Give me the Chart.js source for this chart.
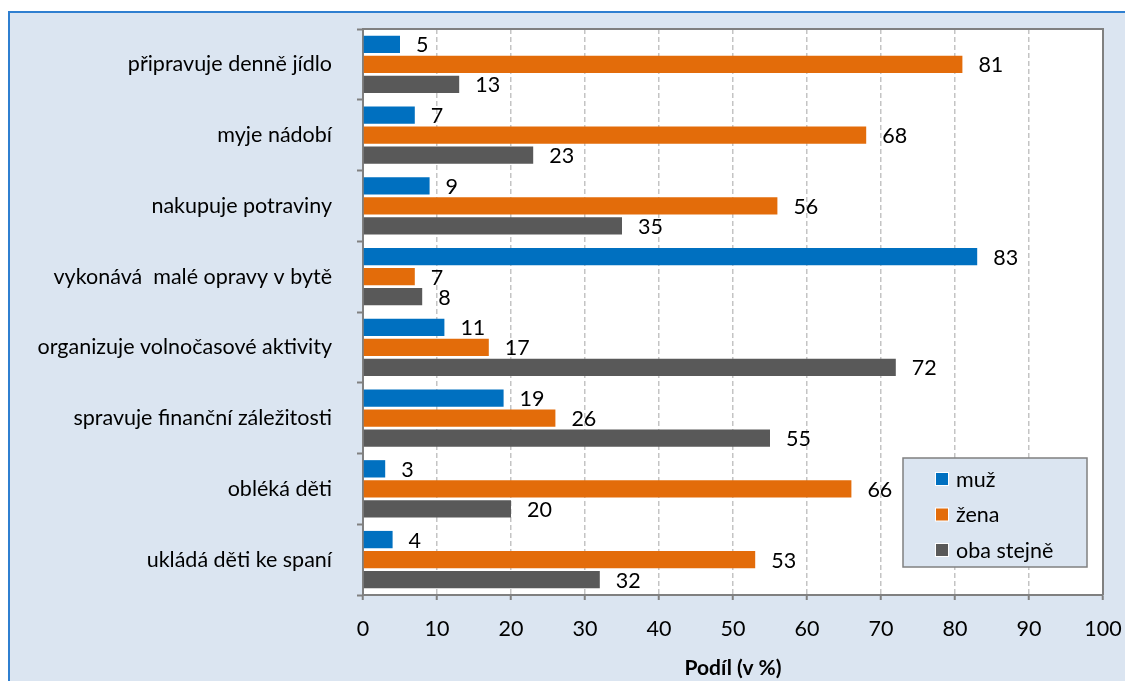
<!DOCTYPE html>
<html>
<head>
<meta charset="utf-8">
<script src="https://cdn.jsdelivr.net/npm/chart.js@4"></script>
<style>
  html, body { margin: 0; padding: 0; background: #fff; }
  #wrap { width: 1125px; height: 681px; }
</style>
</head>
<body>
<div id="wrap"><canvas id="GraphJS" width="1125" height="681"></canvas></div>
<script>
// data
const categories = ['připravuje denně jídlo', 'myje nádobí', 'nakupuje potraviny', 'vykonává  malé opravy v bytě',
    'organizuje volnočasové aktivity', 'spravuje finanční záležitosti', 'obléká děti', 'ukládá děti ke spaní'];
const muz = [5, 7, 9, 83, 11, 19, 3, 4];
const zena = [81, 68, 56, 7, 17, 26, 66, 53];
const oba = [13, 23, 35, 8, 72, 55, 20, 32];
const seriesNames = ['muž', 'žena', 'oba stejně'];
const seriesColors = ['#0070c0', '#e36c0a', '#595959'];
const xTicks = [0, 10, 20, 30, 40, 50, 60, 70, 80, 90, 100];

const FONT = 'Lato, "Open Sans", sans-serif';
const FS = 21.5;

// background panel, frame of plot, value labels, legend, axis title
const extras = {
    id: 'extras',
    beforeDraw(chart) {
        const c = chart.ctx;
        c.save();
        c.fillStyle = '#fff';
        c.fillRect(0, 0, chart.width, chart.height);
        c.fillStyle = '#dbe5f1';
        c.fillRect(9, 12, chart.width - 9, chart.height - 12);
        c.strokeStyle = '#2f7fd0';
        c.lineWidth = 2;
        c.beginPath();
        c.moveTo(9, chart.height);
        c.lineTo(9, 12);
        c.lineTo(chart.width, 12);
        c.stroke();
        const a = chart.chartArea;
        c.fillStyle = '#fff';
        c.fillRect(a.left, a.top, a.right - a.left, a.bottom - a.top);
        c.restore();
    },
    afterDraw(chart) {
        const c = chart.ctx;
        const a = chart.chartArea;
        c.save();
        // top/right frame
        c.strokeStyle = '#808080';
        c.lineWidth = 2;
        c.beginPath();
        c.moveTo(a.left, a.top);
        c.lineTo(a.right, a.top);
        c.lineTo(a.right, a.bottom);
        c.stroke();

        // value labels
        c.font = FS + 'px ' + FONT;
        c.fillStyle = '#000';
        c.textAlign = 'left';
        c.textBaseline = 'middle';
        chart.data.datasets.forEach((ds, i) => {
            chart.getDatasetMeta(i).data.forEach((bar, j) => {
                c.fillText(String(ds.data[j]), bar.x + 16, bar.y + 1);
            });
        });

        // legend box
        const lx = 903, ly = 458, lw = 184, lh = 109;
        c.fillStyle = '#dbe5f1';
        c.fillRect(lx, ly, lw, lh);
        c.strokeStyle = '#808080';
        c.lineWidth = 1.5;
        c.strokeRect(lx, ly, lw, lh);
        chart.data.datasets.forEach((ds, i) => {
            const cy = 479 + i * 35.5;
            c.fillStyle = '#fff';
            c.fillRect(935, cy - 7, 14, 14);
            c.fillStyle = ds.backgroundColor;
            c.fillRect(936, cy - 6, 12, 12);
            c.fillStyle = '#000';
            c.fillText(ds.label, 956, cy + 1);
        });

        // axis title
        c.font = 'bold 21px ' + FONT;
        c.textAlign = 'center';
        c.fillText('Podíl (v %)', (a.left + a.right) / 2, 668);
        c.restore();
    }
};

const noPad = s => { s.paddingLeft = s.paddingRight = s.paddingTop = s.paddingBottom = 0; };

new Chart(document.getElementById('GraphJS'), {
    type: 'bar',
    data: {
        labels: categories,
        datasets: [muz, zena, oba].map((d, i) => ({
            label: seriesNames[i],
            data: d,
            backgroundColor: seriesColors[i],
            borderWidth: 0,
            categoryPercentage: 0.85,
            barPercentage: 0.865
        }))
    },
    options: {
        indexAxis: 'y',
        responsive: false,
        animation: false,
        layout: { padding: { top: 29, right: 22, left: 0, bottom: 0 } },
        plugins: { legend: { display: false }, tooltip: { enabled: false } },
        scales: {
            x: {
                min: 0,
                max: 100,
                afterBuildTicks: s => { s.ticks = xTicks.map(v => ({ value: v })); },
                afterFit: s => { s.height = 86; noPad(s); },
                ticks: { color: '#000', font: { family: FONT, size: FS }, padding: 16 },
                grid: {
                    color: ctx => (ctx.tick && (ctx.tick.value === 0 || ctx.tick.value === 100)) ? 'rgba(0,0,0,0)' : '#c4c4c4',
                    lineWidth: 1.5,
                    tickColor: '#808080',
                    tickLength: 5,
                    tickWidth: 2
                },
                border: { color: '#808080', width: 2, dash: [5, 3] }
            },
            y: {
                afterFit: s => { s.width = 363; noPad(s); },
                ticks: { color: '#000', font: { family: FONT, size: FS }, padding: 25 },
                grid: {
                    drawOnChartArea: false,
                    offset: true,
                    tickColor: '#808080',
                    tickLength: 6,
                    tickWidth: 2
                },
                border: { color: '#808080', width: 2 }
            }
        }
    },
    plugins: [extras]
});
</script>
</body>
</html>
